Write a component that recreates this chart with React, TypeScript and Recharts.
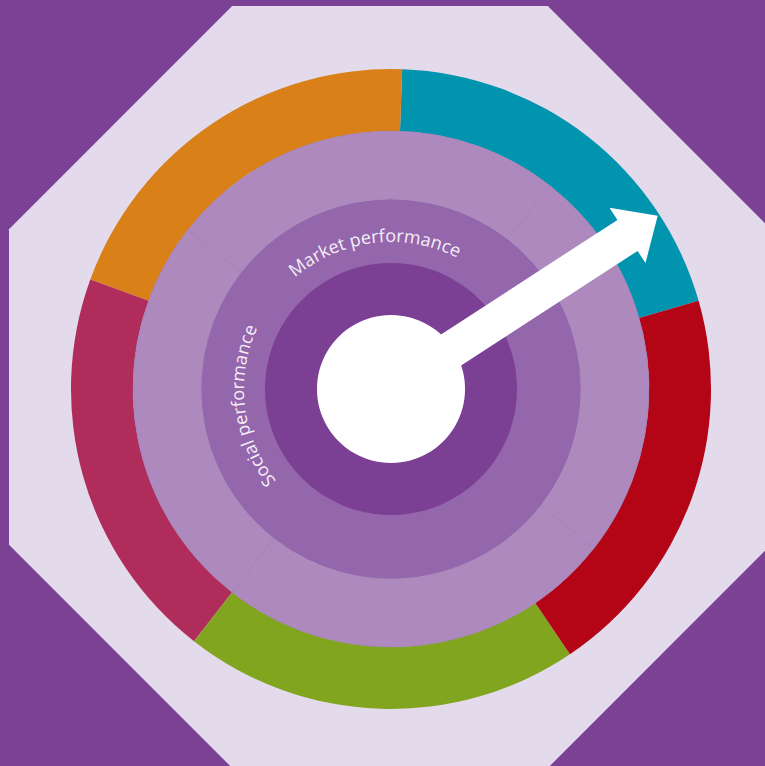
import React from 'react';
import { PieChart, Pie, Cell, Customized } from 'recharts';

// outer ring: five equal segments, counter-clockwise from the right
const segmentNames = ['Teal', 'Orange', 'Crimson', 'Green', 'Red'];
const segmentValues = [1, 1, 1, 1, 1];
const segmentColors = ['#0094AE', '#D98019', '#B02C5B', '#82A51F', '#B30515'];

// inner quadrants (only two are labelled in the picture)
const quadrantNames = ['Market performance', 'Social performance', '', ''];
const quadrantValues = [1, 1, 1, 1];

// direction of the white pointer, degrees counter-clockwise from 3 o'clock
const pointerAngle = 33;

const W = 765;
const H = 766;
const CX = 391;
const CY = 389;

const RAD = Math.PI / 180;

const segments = segmentNames.map((name, i) => ({ name, value: segmentValues[i] }));
const quadrants = quadrantNames.map((name, i) => ({ name, value: quadrantValues[i] }));
const single = [{ name: 'core', value: 1 }];

// curved quadrant label, written clockwise along a circle inside the middle ring
const ArcLabel = (props: any) => {
  const { cx, cy, midAngle, name, index } = props;
  if (!name) return null;
  const r = 147;
  const pt = (deg: number) => [cx + r * Math.cos(deg * RAD), cy - r * Math.sin(deg * RAD)];
  const [x1, y1] = pt(midAngle + 45);
  const [x2, y2] = pt(midAngle - 45);
  const id = `arc-label-${index}`;
  return (
    <g>
      <defs>
        <path id={id} d={`M ${x1} ${y1} A ${r} ${r} 0 0 1 ${x2} ${y2}`} fill="none" />
      </defs>
      <text fill="#F4EEF7" fontSize={18} fontFamily="'Open Sans', sans-serif">
        <textPath href={`#${id}`} startOffset="50%" textAnchor="middle">
          {name}
        </textPath>
      </text>
    </g>
  );
};

const Octagon = () => {
  const apothem = 381;
  const rv = apothem / Math.cos(22.5 * RAD);
  const pts = Array.from({ length: 8 }, (_, k) => {
    const a = (22.5 + 45 * k) * RAD;
    return `${390 + rv * Math.cos(a)},${387 - rv * Math.sin(a)}`;
  }).join(' ');
  return <polygon points={pts} fill="#E3DAEC" />;
};

// white arrow from the hub, drawn as the hub's label so it sits on top
const Pointer = (props: any) => {
  const { cx, cy } = props;
  const a = pointerAngle * RAD;
  const len = 318;
  const headLen = 36;
  const shaft = 18.5;
  const head = 33;
  const ux = Math.cos(a), uy = -Math.sin(a);
  const nx = Math.sin(a), ny = Math.cos(a);
  const p = (d: number, w: number) => `${cx + ux * d + nx * w},${cy + uy * d + ny * w}`;
  const pts = [
    p(0, -shaft), p(len - headLen, -shaft), p(len - headLen, -head), p(len, 0),
    p(len - headLen, head), p(len - headLen, shaft), p(0, shaft),
  ].join(' ');
  return <polygon points={pts} fill="#FFFFFF" />;
};

export default function App() {
  return (
    <div style={{ position: 'absolute', left: 0, top: 0, width: W, height: H, background: '#7B4194', overflow: 'hidden' }}>
      <PieChart width={W} height={H} margin={{ top: 0, right: 0, bottom: 0, left: 0 }}>
        <Customized component={Octagon} />
        <Pie
          data={segments}
          dataKey="value"
          cx={CX}
          cy={CY}
          innerRadius={258}
          outerRadius={320}
          startAngle={16}
          endAngle={376}
          stroke="none"
          isAnimationActive={false}
        >
          {segments.map((d, i) => <Cell key={d.name} fill={segmentColors[i]} />)}
        </Pie>
        <Pie
          data={single}
          dataKey="value"
          cx={CX}
          cy={CY}
          innerRadius={0}
          outerRadius={190}
          fill="#9466AC"
          stroke="none"
          isAnimationActive={false}
        />
        <Pie
          data={quadrants}
          dataKey="value"
          cx={CX}
          cy={CY}
          innerRadius={190}
          outerRadius={258}
          startAngle={52}
          endAngle={412}
          fill="#AE89BE"
          stroke="#A27EB4"
          strokeWidth={0.7}
          label={ArcLabel}
          labelLine={false}
          isAnimationActive={false}
        />
        <Pie
          data={single}
          dataKey="value"
          cx={CX}
          cy={CY}
          innerRadius={74}
          outerRadius={126}
          fill="#7B3F94"
          stroke="none"
          isAnimationActive={false}
        />
        <Pie
          data={single}
          dataKey="value"
          cx={CX}
          cy={CY}
          innerRadius={0}
          outerRadius={74}
          fill="#FFFFFF"
          stroke="none"
          label={Pointer}
          labelLine={false}
          isAnimationActive={false}
        />
      </PieChart>
    </div>
  );
}
